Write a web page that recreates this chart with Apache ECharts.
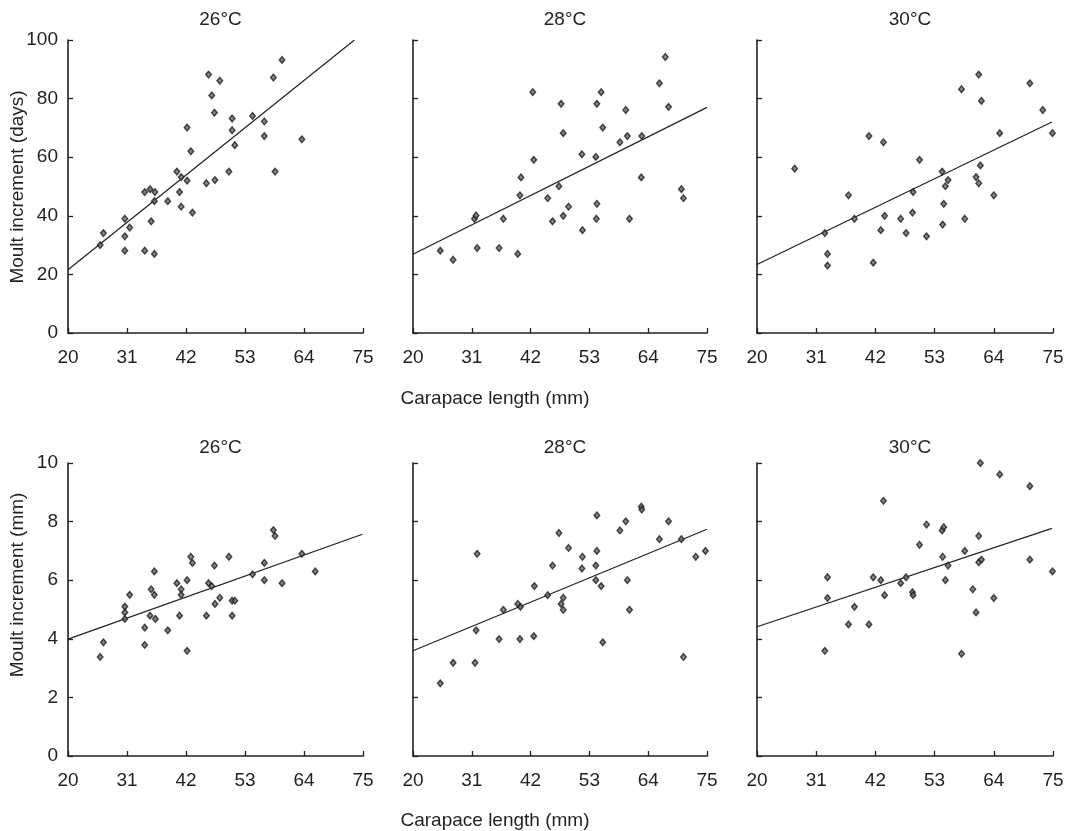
<!DOCTYPE html>
<html>
<head>
<meta charset="utf-8">
<script src="https://cdn.jsdelivr.net/npm/echarts@6/dist/echarts.min.js"></script>
<style>
html,body{margin:0;padding:0;background:#fff;}
#chart{width:1076px;height:831px;}
</style>
</head>
<body>
<div id="chart"></div>
<script>
// ---- data ----
const panelTitles = ['26°C', '28°C', '30°C', '26°C', '28°C', '30°C'];
const xTicks = [20, 31, 42, 53, 64, 75];
const xAxisTitle = 'Carapace length (mm)';
const yTitleTop = 'Moult increment (days)';
const yTitleBottom = 'Moult increment (mm)';

const days26 = [[26.0,30.0],[26.6,34.1],[30.6,39.0],[30.6,33.0],[30.6,28.1],[31.5,36.0],[34.3,28.1],[34.3,48.1],[35.3,49.1],[36.2,48.1],[36.1,45.0],[35.5,38.1],[36.1,27.0],[38.6,45.0],[40.3,55.1],[41.1,53.2],[40.8,48.1],[41.1,43.1],[42.2,52.0],[42.2,70.1],[42.9,62.0],[43.2,41.1],[45.8,51.1],[46.2,88.2],[46.8,81.1],[47.3,75.2],[47.4,52.2],[48.3,86.1],[50.0,55.1],[50.6,69.2],[50.6,73.2],[51.1,64.1],[54.4,74.1],[56.6,72.2],[56.6,67.2],[58.3,87.2],[58.6,55.1],[59.9,93.2],[63.6,66.1]];
const days28 = [[25.1,28.1],[27.5,25.0],[31.5,39.0],[31.8,40.1],[32.0,29.0],[36.1,29.0],[36.9,39.0],[39.6,27.0],[40.0,47.0],[40.2,53.1],[42.4,82.2],[42.6,59.1],[45.2,46.0],[46.1,38.1],[47.3,50.1],[47.7,78.2],[48.1,68.2],[48.1,40.0],[49.1,43.1],[51.6,61.0],[51.7,35.1],[54.2,60.1],[54.4,44.1],[54.3,39.0],[54.4,78.2],[55.2,82.2],[55.5,70.1],[58.7,65.1],[59.8,76.1],[60.1,67.2],[60.5,39.0],[62.8,67.2],[62.7,53.1],[66.1,85.2],[67.2,94.2],[67.8,77.2],[70.2,49.1],[70.6,46.0]];
const days30 = [[27.0,56.1],[32.6,34.1],[33.1,27.0],[33.1,23.0],[37.0,47.0],[38.1,39.0],[40.8,67.2],[41.6,24.0],[43.0,35.1],[43.5,65.1],[43.7,40.0],[46.7,39.0],[47.7,34.1],[48.9,41.1],[49.0,48.1],[50.2,59.1],[51.5,33.0],[54.4,55.1],[54.5,37.0],[54.7,44.1],[55.0,50.1],[55.5,52.2],[58.0,83.2],[58.6,39.0],[60.7,53.2],[61.2,51.1],[61.2,88.2],[61.5,57.2],[61.7,79.2],[64.0,47.0],[65.1,68.2],[70.7,85.2],[73.1,76.1],[74.9,68.2]];
const mm26 = [[26.0,3.38],[26.6,3.88],[30.6,5.10],[30.6,4.90],[30.6,4.68],[31.5,5.50],[34.3,4.38],[34.3,3.79],[35.3,4.79],[35.5,5.69],[36.1,5.50],[36.1,6.30],[36.3,4.68],[38.6,4.29],[40.3,5.90],[40.8,4.79],[41.1,5.69],[41.1,5.50],[42.2,6.00],[42.2,3.59],[42.9,6.80],[43.2,6.59],[45.8,4.79],[46.2,5.90],[46.8,5.80],[47.3,6.50],[47.4,5.19],[48.3,5.40],[50.0,6.80],[50.6,4.79],[50.6,5.30],[51.1,5.30],[54.4,6.20],[56.6,6.00],[56.6,6.59],[58.3,7.71],[58.6,7.51],[59.9,5.90],[63.6,6.90],[66.1,6.30]];
const mm28 = [[25.1,2.48],[27.5,3.18],[31.6,3.18],[31.8,4.29],[32.0,6.90],[36.1,3.99],[36.9,4.99],[39.6,5.19],[40.0,3.99],[40.1,5.09],[42.6,4.09],[42.7,5.80],[45.2,5.49],[46.1,6.50],[47.3,7.61],[47.7,5.19],[48.1,4.99],[48.1,5.40],[49.1,7.10],[51.6,6.40],[51.7,6.80],[54.2,6.50],[54.2,6.00],[54.4,7.00],[54.4,8.21],[55.2,5.80],[55.5,3.88],[58.7,7.70],[59.8,8.01],[60.1,6.00],[60.5,4.99],[62.7,8.51],[62.8,8.41],[66.1,7.40],[67.8,8.01],[70.2,7.40],[70.6,3.38],[72.9,6.80],[74.7,7.00]];
const mm30 = [[32.6,3.59],[33.1,6.10],[33.1,5.39],[37.0,4.49],[38.1,5.09],[40.8,4.49],[41.6,6.10],[43.0,6.00],[43.5,8.71],[43.7,5.49],[46.7,5.90],[47.7,6.10],[48.9,5.59],[49.0,5.49],[50.2,7.21],[51.5,7.90],[54.4,7.70],[54.7,7.81],[54.5,6.80],[55.0,6.00],[55.5,6.50],[58.0,3.49],[58.6,7.00],[60.1,5.69],[60.7,4.90],[61.2,7.51],[61.2,6.61],[61.7,6.70],[61.5,10.0],[64.0,5.39],[65.1,9.61],[70.7,9.21],[70.7,6.70],[74.9,6.30]];

// regression line endpoints
const fitDays26 = [[20,21.6],[73.4,100]];
const fitDays28 = [[20,26.9],[75,77.0]];
const fitDays30 = [[20,23.4],[74.8,72.0]];
const fitMm26 = [[20,3.99],[74.9,7.57]];
const fitMm28 = [[20,3.59],[75,7.74]];
const fitMm30 = [[20,4.41],[74.8,7.77]];

const scatterSets = [days26, days28, days30, mm26, mm28, mm30];
const fitSets = [fitDays26, fitDays28, fitDays30, fitMm26, fitMm28, fitMm30];

// ---- layout ----
const ink = '#231f20';
const FONT = 'Liberation Sans, Arial, Helvetica, sans-serif';
const FS = 19;
const lefts = [68, 413, 757];
const widths = [295, 294, 296];
const tops = [40, 463];
const H = 293;

const grid = [], xAxis = [], yAxis = [], series = [], title = [];
for (let i = 0; i < 6; i++) {
  const r = Math.floor(i / 3), c = i % 3;
  grid.push({left: lefts[c], top: tops[r], width: widths[c], height: H, containLabel: false});
  xAxis.push({
    type: 'value', gridIndex: i, min: 20, max: 75,
    axisLine: {show: true, lineStyle: {color: ink, width: 1.6}},
    axisTick: {show: true, inside: true, length: 5, lineStyle: {color: ink, width: 1.3}, customValues: xTicks},
    axisLabel: {show: true, color: ink, fontSize: FS, fontFamily: FONT, margin: 15, customValues: xTicks},
    splitLine: {show: false}
  });
  yAxis.push({
    type: 'value', gridIndex: i, min: 0, max: r === 0 ? 100 : 10, interval: r === 0 ? 20 : 2,
    axisLine: {show: true, lineStyle: {color: ink, width: 1.6}},
    axisTick: {show: true, inside: true, length: 5, lineStyle: {color: ink, width: 1.3}},
    axisLabel: {show: c === 0, color: ink, fontSize: FS, fontFamily: FONT, margin: 10},
    splitLine: {show: false}
  });
  series.push({
    type: 'scatter', xAxisIndex: i, yAxisIndex: i, data: scatterSets[i],
    symbol: 'diamond', symbolSize: [5.5, 6.5],
    itemStyle: {color: '#6a6a6a', borderColor: ink, borderWidth: 1.5},
    z: 3
  });
  series.push({
    type: 'line', xAxisIndex: i, yAxisIndex: i, data: fitSets[i],
    symbol: 'none', lineStyle: {color: ink, width: 1.2}, z: 2
  });
  title.push({
    text: panelTitles[i], left: lefts[c] + widths[c] / 2, top: r === 0 ? 5 : 433,
    textAlign: 'center',
    textStyle: {fontSize: FS, fontWeight: 'normal', color: ink, fontFamily: FONT}
  });
}
title.push({text: xAxisTitle, left: 490, top: 384, textAlign: 'center',
  textStyle: {fontSize: FS, fontWeight: 'normal', color: ink, fontFamily: FONT}});
title.push({text: xAxisTitle, left: 490, top: 806, textAlign: 'center',
  textStyle: {fontSize: FS, fontWeight: 'normal', color: ink, fontFamily: FONT}});

const chart = echarts.init(document.getElementById('chart'), null, {renderer: 'canvas'});
chart.setOption({
  animation: false,
  backgroundColor: '#ffffff',
  title: title,
  grid: grid,
  xAxis: xAxis,
  yAxis: yAxis,
  series: series,
  graphic: [
    {type: 'text', x: 18, y: 187, rotation: Math.PI / 2,
     style: {text: yTitleTop, fontSize: FS, fontFamily: FONT, fill: ink, align: 'center', verticalAlign: 'middle'}},
    {type: 'text', x: 18, y: 585, rotation: Math.PI / 2,
     style: {text: yTitleBottom, fontSize: FS, fontFamily: FONT, fill: ink, align: 'center', verticalAlign: 'middle'}}
  ]
});
</script>
</body>
</html>
